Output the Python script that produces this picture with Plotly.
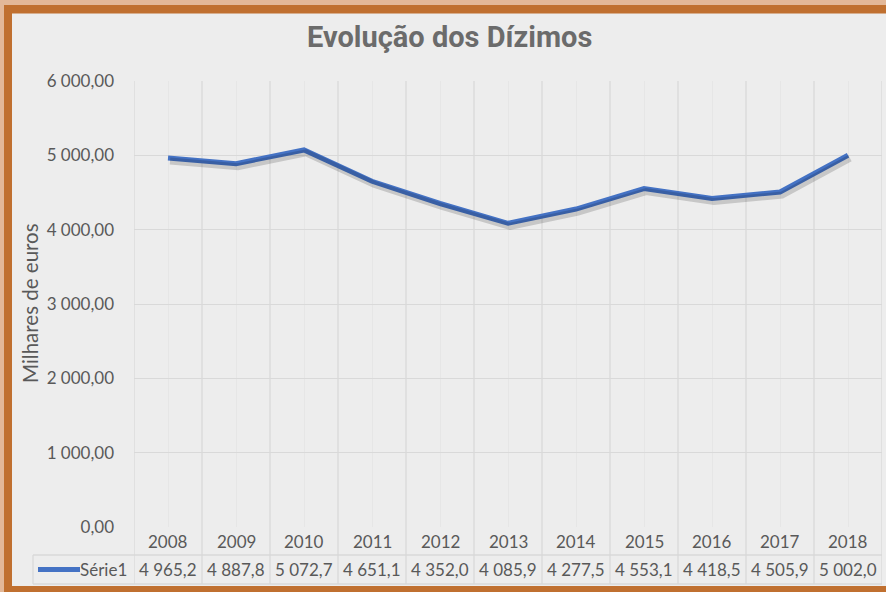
import plotly.graph_objects as go

years = ["2008", "2009", "2010", "2011", "2012", "2013", "2014", "2015", "2016", "2017", "2018"]
values = [4965.2, 4887.8, 5072.7, 4651.1, 4352.0, 4085.9, 4277.5, 4553.1, 4418.5, 4505.9, 5002.0]
series_name = "Série1"
title = "Evolução dos Dízimos"
y_title = "Milhares de euros"
y_ticks = [0, 1000, 2000, 3000, 4000, 5000, 6000]

W, H = 886, 592
L, R, T, B = 134, 4, 81, 65
PW, PH = W - L - R, H - T - B

def px(x):
    return (x - L) / PW

def py(y):
    return (H - B - y) / PH

def fmt(v, d):
    s = f"{v:,.{d}f}"
    return s.replace(",", " ").replace(".", ",")

idx = list(range(len(years)))
fig = go.Figure()
# soft drop shadow: same data drawn on a slightly shifted overlay axis pair
fig.add_trace(go.Scatter(x=idx, y=values, mode="lines", xaxis="x2", yaxis="y2", hoverinfo="skip",
                         line=dict(color="rgba(0,0,0,0.16)", width=7), showlegend=False))
fig.add_trace(go.Scatter(x=idx, y=values, mode="lines", name=series_name,
                         line=dict(color="#4472C4", width=5), showlegend=False))

grid = "#D9D9D9"
txt = "#595959"
shapes = []
for i in range(len(years) + 1):
    shapes.append(dict(type="line", xref="x", yref="paper", x0=i - 0.5, x1=i - 0.5,
                       y0=py(584), y1=1, line=dict(color=grid, width=1.3), layer="below"))
for yy in (555, 584):
    shapes.append(dict(type="line", xref="paper", yref="paper", x0=px(33), x1=1,
                       y0=py(yy), y1=py(yy), line=dict(color=grid, width=1.3)))
shapes.append(dict(type="line", xref="paper", yref="paper", x0=px(33), x1=px(33),
                   y0=py(555), y1=py(584), line=dict(color=grid, width=1.3)))
shapes.append(dict(type="line", xref="paper", yref="paper", x0=px(38), x1=px(80),
                   y0=py(569.5), y1=py(569.5), line=dict(color="#4472C4", width=5)))
peach, brown = "#E3B898", "#C07030"
def rect(x0, y0, x1, y1, c):
    shapes.append(dict(type="rect", xref="paper", yref="paper", x0=px(x0), x1=px(x1),
                       y0=py(y0), y1=py(y1), fillcolor=c, line=dict(width=0), layer="above"))
rect(0, 0, W, 5, peach)
rect(0, 0, 4, H, peach)
rect(4, 5, W, 13.5, brown)
rect(4, 5, 12, H, brown)
rect(4, 586, W, H, brown)

ann = []
for i, (yr, v) in enumerate(zip(years, values)):
    ann.append(dict(x=i, y=py(541), xref="x", yref="paper", text=yr, showarrow=False,
                    font=dict(size=17, color=txt), xanchor="center", yanchor="middle"))
    ann.append(dict(x=i, y=py(569.5), xref="x", yref="paper", text=fmt(v, 1), showarrow=False,
                    font=dict(size=17, color=txt), xanchor="center", yanchor="middle"))
ann.append(dict(x=px(129), y=py(569.5), xref="paper", yref="paper", text=series_name,
                showarrow=False, font=dict(size=17, color=txt), xanchor="right", yanchor="middle"))
ann.append(dict(x=px(30), y=py(303), xref="paper", yref="paper", text=y_title, textangle=-90,
                showarrow=False, font=dict(size=20.5, color=txt), xanchor="center", yanchor="middle"))
ann.append(dict(x=px(449), y=py(37), xref="paper", yref="paper", text=f"<b>{title}</b>",
                showarrow=False, font=dict(size=29, color="#6B6B6B", family="Roboto"),
                xanchor="center", yanchor="middle"))

xr = [-0.5, len(years) - 0.5]
yr_ = [0, 6000]
dx = 2 / PW * (xr[1] - xr[0])
dy = 3 / PH * (yr_[1] - yr_[0])

fig.update_layout(
    width=W, height=H, margin=dict(l=L, r=R, t=T, b=B, autoexpand=False),
    paper_bgcolor="#EDEDED", plot_bgcolor="#EDEDED",
    font=dict(family="Lato", color=txt),
    separators=", ",
    shapes=shapes, annotations=ann, showlegend=False,
    xaxis=dict(range=xr, tickvals=idx, showticklabels=False,
               showgrid=True, gridcolor="#E6E6E6", gridwidth=1.3, zeroline=False, showline=False,
               fixedrange=True),
    yaxis=dict(range=yr_, tickvals=y_ticks, ticktext=[fmt(t, 2) for t in y_ticks],
               showgrid=True, gridcolor=grid, gridwidth=1.3, zeroline=False, showline=False,
               tickfont=dict(size=17, color=txt), ticklabelstandoff=19, fixedrange=True),
    xaxis2=dict(range=[xr[0] - dx, xr[1] - dx], overlaying="x", visible=False, fixedrange=True),
    yaxis2=dict(range=[yr_[0] + dy, yr_[1] + dy], overlaying="y", visible=False, fixedrange=True),
)
fig.write_html("out.html", config={"displayModeBar": False},
               post_script="document.body.style.margin='0';document.body.style.overflow='hidden';")
